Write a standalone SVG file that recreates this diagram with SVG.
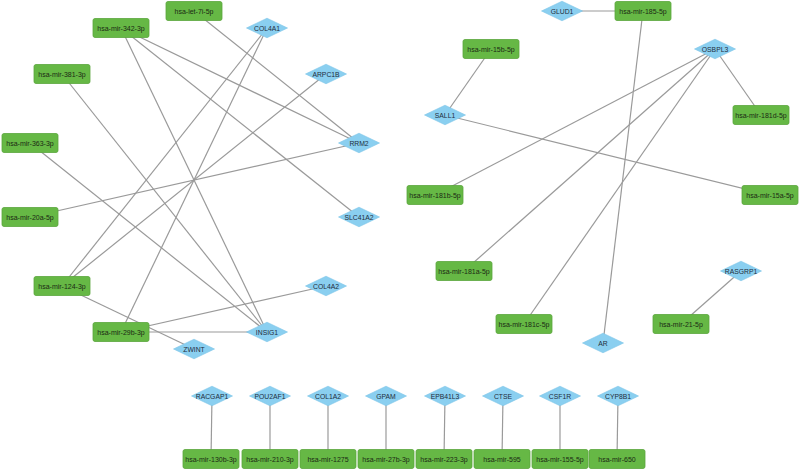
<svg xmlns="http://www.w3.org/2000/svg" width="800" height="470" viewBox="0 0 800 470">
<defs>
<style>
.m use{fill:#66b845;stroke:#5aa63c;stroke-width:0.8}
.g use{fill:#8acff0;stroke:#7cc4e8;stroke-width:0.6}
text{font-family:"Liberation Sans",Arial,sans-serif;font-size:7px;text-anchor:middle;dominant-baseline:central}
.m text{fill:#1b2a14}
.g text{fill:#1e2d3c;font-size:6.8px}
#edges line{stroke:#9a9a9a;stroke-width:1.2}
</style>
<rect id="mr" x="-28" y="-9.5" width="56" height="19" rx="2"/>
<polygon id="dm" points="-20.5,0 0,-9.8 20.5,0 0,9.8"/>
</defs>
<rect width="800" height="470" fill="#ffffff"/>
<g id="edges">
<line x1="194" y1="11" x2="359" y2="143"/>
<line x1="121" y1="28" x2="359" y2="143"/>
<line x1="121" y1="28" x2="359" y2="217"/>
<line x1="121" y1="28" x2="267" y2="332"/>
<line x1="62" y1="74" x2="267" y2="332"/>
<line x1="30" y1="143" x2="267" y2="332"/>
<line x1="30" y1="217" x2="359" y2="143"/>
<line x1="62" y1="286" x2="267" y2="28"/>
<line x1="62" y1="286" x2="326" y2="74"/>
<line x1="62" y1="286" x2="194" y2="349"/>
<line x1="121" y1="332" x2="267" y2="28"/>
<line x1="121" y1="332" x2="326" y2="286"/>
<line x1="121" y1="332" x2="267" y2="332"/>
<line x1="562" y1="11" x2="643" y2="11"/>
<line x1="643" y1="11" x2="603" y2="343"/>
<line x1="491" y1="49" x2="445" y2="115"/>
<line x1="445" y1="115" x2="770" y2="195"/>
<line x1="715" y1="49" x2="435" y2="195"/>
<line x1="715" y1="49" x2="464" y2="271"/>
<line x1="715" y1="49" x2="524" y2="324"/>
<line x1="715" y1="49" x2="761" y2="115"/>
<line x1="741" y1="271" x2="681" y2="324"/>
<line x1="212" y1="396" x2="211" y2="459"/>
<line x1="270" y1="396" x2="270" y2="459"/>
<line x1="328" y1="396" x2="328" y2="459"/>
<line x1="386" y1="396" x2="386" y2="459"/>
<line x1="445" y1="396" x2="444" y2="459"/>
<line x1="503" y1="396" x2="502" y2="459"/>
<line x1="560" y1="396" x2="560" y2="459"/>
<line x1="618" y1="396" x2="617" y2="459"/>
</g>
<g id="n-let7i" class="m" transform="translate(194,11)"><use href="#mr"/><text>hsa-let-7i-5p</text></g>
<g id="n-342" class="m" transform="translate(121,28)"><use href="#mr"/><text>hsa-mir-342-3p</text></g>
<g id="n-381" class="m" transform="translate(62,74)"><use href="#mr"/><text>hsa-mir-381-3p</text></g>
<g id="n-363" class="m" transform="translate(30,143)"><use href="#mr"/><text>hsa-mir-363-3p</text></g>
<g id="n-20a" class="m" transform="translate(30,217)"><use href="#mr"/><text>hsa-mir-20a-5p</text></g>
<g id="n-124" class="m" transform="translate(62,286)"><use href="#mr"/><text>hsa-mir-124-3p</text></g>
<g id="n-29b" class="m" transform="translate(121,332)"><use href="#mr"/><text>hsa-mir-29b-3p</text></g>
<g id="n-COL4A1" class="g" transform="translate(267,28)"><use href="#dm"/><text>COL4A1</text></g>
<g id="n-ARPC1B" class="g" transform="translate(326,74)"><use href="#dm"/><text>ARPC1B</text></g>
<g id="n-RRM2" class="g" transform="translate(359,143)"><use href="#dm"/><text>RRM2</text></g>
<g id="n-SLC41A2" class="g" transform="translate(359,217)"><use href="#dm"/><text>SLC41A2</text></g>
<g id="n-COL4A2" class="g" transform="translate(326,286)"><use href="#dm"/><text>COL4A2</text></g>
<g id="n-INSIG1" class="g" transform="translate(267,332)"><use href="#dm"/><text>INSIG1</text></g>
<g id="n-ZWINT" class="g" transform="translate(194,349)"><use href="#dm"/><text>ZWINT</text></g>
<g id="n-GLUD1" class="g" transform="translate(562,11)"><use href="#dm"/><text>GLUD1</text></g>
<g id="n-185" class="m" transform="translate(643,11)"><use href="#mr"/><text>hsa-mir-185-5p</text></g>
<g id="n-15b" class="m" transform="translate(491,49)"><use href="#mr"/><text>hsa-mir-15b-5p</text></g>
<g id="n-OSBPL3" class="g" transform="translate(715,49)"><use href="#dm"/><text>OSBPL3</text></g>
<g id="n-SALL1" class="g" transform="translate(445,115)"><use href="#dm"/><text>SALL1</text></g>
<g id="n-181d" class="m" transform="translate(761,115)"><use href="#mr"/><text>hsa-mir-181d-5p</text></g>
<g id="n-181b" class="m" transform="translate(435,195)"><use href="#mr"/><text>hsa-mir-181b-5p</text></g>
<g id="n-15a" class="m" transform="translate(770,195)"><use href="#mr"/><text>hsa-mir-15a-5p</text></g>
<g id="n-181a" class="m" transform="translate(464,271)"><use href="#mr"/><text>hsa-mir-181a-5p</text></g>
<g id="n-RASGRP1" class="g" transform="translate(741,271)"><use href="#dm"/><text>RASGRP1</text></g>
<g id="n-181c" class="m" transform="translate(524,324)"><use href="#mr"/><text>hsa-mir-181c-5p</text></g>
<g id="n-21" class="m" transform="translate(681,324)"><use href="#mr"/><text>hsa-mir-21-5p</text></g>
<g id="n-AR" class="g" transform="translate(603,343)"><use href="#dm"/><text>AR</text></g>
<g id="n-RACGAP1" class="g" transform="translate(212,396)"><use href="#dm"/><text>RACGAP1</text></g>
<g id="n-POU2AF1" class="g" transform="translate(270,396)"><use href="#dm"/><text>POU2AF1</text></g>
<g id="n-COL1A2" class="g" transform="translate(328,396)"><use href="#dm"/><text>COL1A2</text></g>
<g id="n-GPAM" class="g" transform="translate(386,396)"><use href="#dm"/><text>GPAM</text></g>
<g id="n-EPB41L3" class="g" transform="translate(445,396)"><use href="#dm"/><text>EPB41L3</text></g>
<g id="n-CTSE" class="g" transform="translate(503,396)"><use href="#dm"/><text>CTSE</text></g>
<g id="n-CSF1R" class="g" transform="translate(560,396)"><use href="#dm"/><text>CSF1R</text></g>
<g id="n-CYP8B1" class="g" transform="translate(618,396)"><use href="#dm"/><text>CYP8B1</text></g>
<g id="n-130b" class="m" transform="translate(211,459)"><use href="#mr"/><text>hsa-mir-130b-3p</text></g>
<g id="n-210" class="m" transform="translate(270,459)"><use href="#mr"/><text>hsa-mir-210-3p</text></g>
<g id="n-1275" class="m" transform="translate(328,459)"><use href="#mr"/><text>hsa-mir-1275</text></g>
<g id="n-27b" class="m" transform="translate(386,459)"><use href="#mr"/><text>hsa-mir-27b-3p</text></g>
<g id="n-223" class="m" transform="translate(444,459)"><use href="#mr"/><text>hsa-mir-223-3p</text></g>
<g id="n-595" class="m" transform="translate(502,459)"><use href="#mr"/><text>hsa-mir-595</text></g>
<g id="n-155" class="m" transform="translate(560,459)"><use href="#mr"/><text>hsa-mir-155-5p</text></g>
<g id="n-650" class="m" transform="translate(617,459)"><use href="#mr"/><text>hsa-mir-650</text></g>
</svg>
